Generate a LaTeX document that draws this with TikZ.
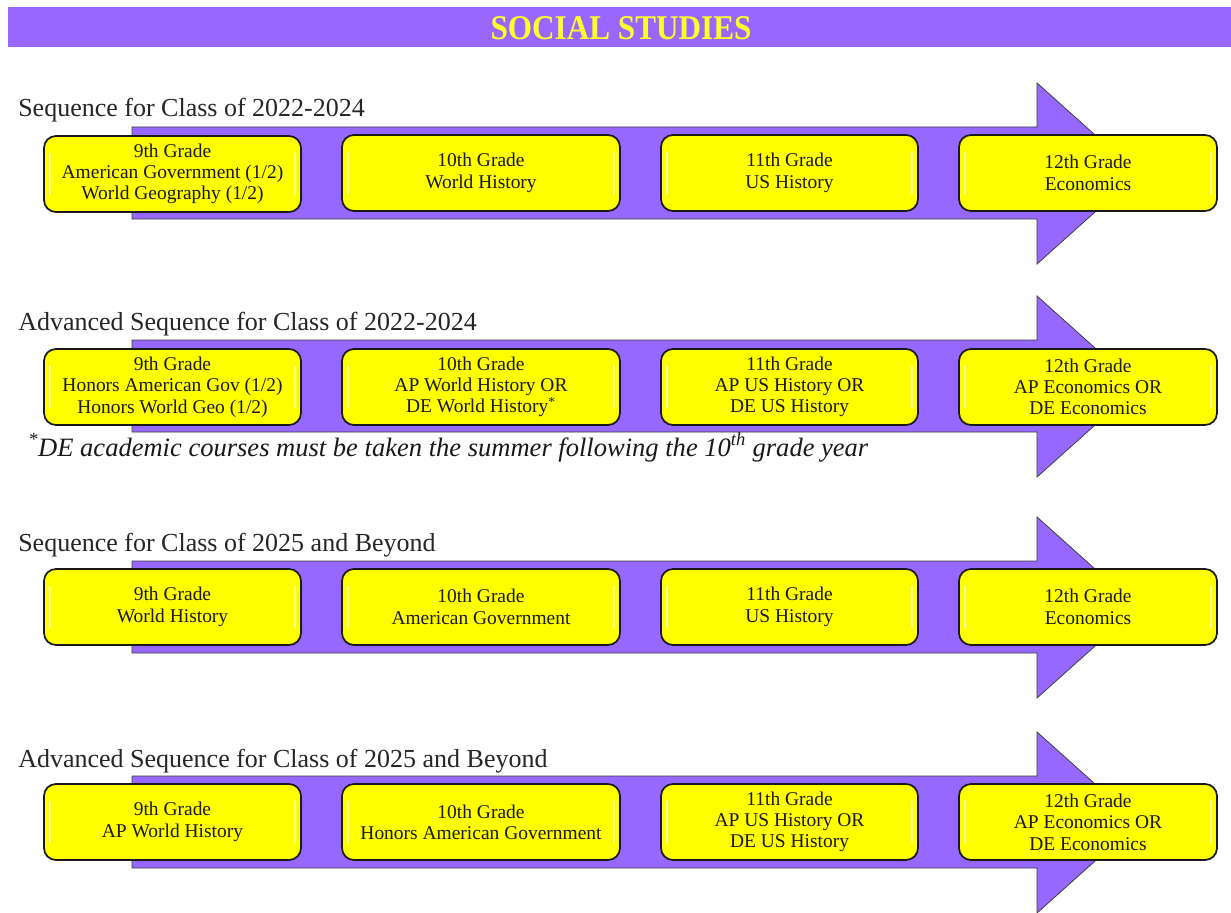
\documentclass[tikz,border=0pt]{standalone}
\usepackage{fontspec}
\setmainfont{Liberation Serif}
\usetikzlibrary{calc}
\definecolor{hdrpurp}{RGB}{153,102,255}
\definecolor{arrpurp}{RGB}{150,104,255}
\definecolor{boxyellow}{RGB}{255,255,0}
\definecolor{hdryellow}{RGB}{255,255,40}
\begin{document}
\begin{tikzpicture}[x=0.75pt,y=-0.75pt,
  gbox/.style={draw=black!90, line width=1.3pt, rounded corners=9pt, fill=boxyellow,
    minimum height=57pt, inner sep=0pt, align=center, text=black!90,
    font=\fontsize{14.6}{16}\selectfont,
    path picture={
      \draw[white, opacity=0.6, line width=1.6pt, line cap=round]
        ($(path picture bounding box.north west)+(4.5pt,-13pt)$) --
        ($(path picture bounding box.south west)+(4.5pt,13pt)$);
      \draw[white, opacity=0.6, line width=1.6pt, line cap=round]
        ($(path picture bounding box.north east)+(-4.5pt,-13pt)$) --
        ($(path picture bounding box.south east)+(-4.5pt,13pt)$);
    }},
  ttl/.style={anchor=base west, inner sep=0pt, text=black!85,
    font=\fontsize{19.5}{22}\selectfont},
  seqarrow/.style={fill=arrpurp, draw=black!75, line width=0.6pt, line join=miter},
  wA/.style={minimum width=192.75pt},
  wB/.style={minimum width=208.5pt},
  wC/.style={minimum width=192.75pt},
  wD/.style={minimum width=193.5pt}]
\useasboundingbox (0,0) rectangle (1231,913);
\fill[white] (0,0) rectangle (1231,913);

% header
\fill[hdrpurp] (8,7) rectangle (1231,47);
\node[text=hdryellow, font=\fontsize{26}{28}\selectfont\bfseries, inner sep=0pt, xscale=0.9] (header) at (621,28) {SOCIAL STUDIES};

% arrows
\foreach \H in {83,296,517,732} {
  \draw[seqarrow] (132,\H+44) -- (1037,\H+44) -- (1037,\H) -- (1138,\H+90.5)
    -- (1037,\H+181) -- (1037,\H+136) -- (132,\H+136) -- cycle;
}

% row 1
\node[ttl] (t1) at (18,117) {Sequence for Class of 2022-2024};
\node[gbox,wA] (r1a) at (172.5,174) {9th Grade\\American Government (1/2)\\World Geography (1/2)};
\node[gbox,wB] (r1b) at (481,173) {10th Grade\\World History};
\node[gbox,wC] (r1c) at (789.5,173) {11th Grade\\US History};
\node[gbox,wD] (r1d) at (1088,173) {12th Grade\\Economics};

% row 2
\node[ttl] (t2) at (18,330) {Advanced Sequence for Class of 2022-2024};
\node[gbox,wA] (r2a) at (172.5,387) {9th Grade\\Honors American Gov (1/2)\\Honors World Geo (1/2)};
\node[gbox,wB] (r2b) at (481,387) {10th Grade\\AP World History OR\\DE World History\textsuperscript{*}};
\node[gbox,wC] (r2c) at (789.5,387) {11th Grade\\AP US History OR\\DE US History};
\node[gbox,wD] (r2d) at (1088,387) {12th Grade\\AP Economics OR\\DE Economics};
\node[anchor=base west, inner sep=0pt, text=black!90, font=\fontsize{19.9}{21}\selectfont\itshape] (fn) at (28,456)
  {\textsuperscript{*}DE academic courses must be taken the summer following the 10\textsuperscript{th} grade year};

% row 3
\node[ttl] (t3) at (18,551) {Sequence for Class of 2025 and Beyond};
\node[gbox,wA] (r3a) at (172.5,607) {9th Grade\\World History};
\node[gbox,wB] (r3b) at (481,607) {10th Grade\\American Government};
\node[gbox,wC] (r3c) at (789.5,607) {11th Grade\\US History};
\node[gbox,wD] (r3d) at (1088,607) {12th Grade\\Economics};

% row 4
\node[ttl] (t4) at (18,767) {Advanced Sequence for Class of 2025 and Beyond};
\node[gbox,wA] (r4a) at (172.5,822) {9th Grade\\AP World History};
\node[gbox,wB] (r4b) at (481,822) {10th Grade\\Honors American Government};
\node[gbox,wC] (r4c) at (789.5,822) {11th Grade\\AP US History OR\\DE US History};
\node[gbox,wD] (r4d) at (1088,822) {12th Grade\\AP Economics OR\\DE Economics};
\end{tikzpicture}
\end{document}
